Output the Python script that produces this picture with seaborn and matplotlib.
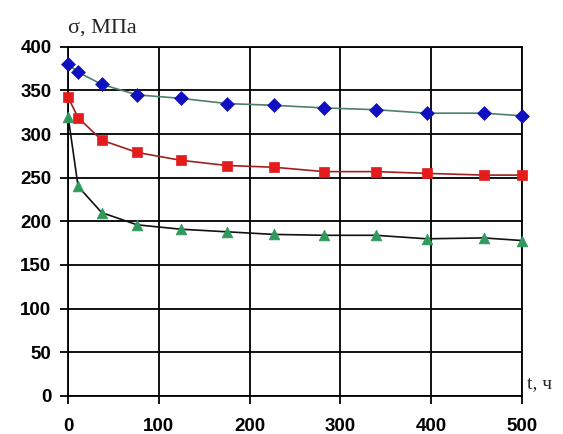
import pandas as pd
import seaborn as sns
import matplotlib.pyplot as plt

t_hours = [0, 11, 37, 76, 124, 175, 227, 282, 339, 395, 458, 500]
sigma_blue = [380, 371, 357, 345, 341, 335, 333, 330, 328, 324, 324, 321]
sigma_red = [342, 319, 293, 279, 270, 264, 262, 257, 257, 255, 253, 253]
sigma_green = [320, 240, 210, 196, 191, 188, 185, 184, 184, 180, 181, 178]

x_ticks = [0, 100, 200, 300, 400, 500]
y_ticks = [0, 50, 100, 150, 200, 250, 300, 350, 400]

sns.set_theme(style="white")
plt.rcParams['font.family'] = ['Liberation Sans', 'DejaVu Sans']

fig = plt.figure(figsize=(5.63, 4.34), dpi=100)
ax = fig.add_axes([0.121, 0.088, 0.806, 0.804])

series = [
    (sigma_blue, "#4f7f6a", "#1010c0", "D", 50),
    (sigma_red, "#a02020", "#e41c1c", "s", 55),
    (sigma_green, "#111111", "#2f9a5c", "^", 60),
]
for vals, line_col, mark_col, mk, sz in series:
    df = pd.DataFrame({"t": t_hours, "sigma": vals})
    sns.lineplot(data=df, x="t", y="sigma", ax=ax, color=line_col, linewidth=1.2)
    sns.scatterplot(data=df, x="t", y="sigma", ax=ax, color=mark_col, marker=mk,
                    s=sz, edgecolor=mark_col, linewidth=0.5, zorder=5)
for coll in ax.collections:
    coll.set_clip_on(False)

ax.set_xlim(0, 500)
ax.set_ylim(0, 400)
ax.set_xticks(x_ticks)
ax.set_yticks(y_ticks)
ax.grid(True, color="black", linewidth=1.3)
for sp in ax.spines.values():
    sp.set_color("black")
    sp.set_linewidth(1.3)
ax.tick_params(axis="both", direction="out", length=6, width=1.3, color="black",
               labelsize=13.5, labelcolor="black", left=True, bottom=True)
ax.tick_params(axis="x", pad=10)
ax.tick_params(axis="y", pad=6)
for lbl in ax.get_xticklabels() + ax.get_yticklabels():
    lbl.set_fontweight("bold")
ax.set_xlabel("")
ax.set_ylabel("")

# axis captions, placed like in the original figure
ax.text(0.0, 1.028, "σ, МПа", transform=ax.transAxes, fontsize=16,
        family=["Liberation Serif", "DejaVu Serif"], ha="left", va="bottom")
ax.text(1.012, 0.012, "t, ч", transform=ax.transAxes, fontsize=14,
        family=["Liberation Serif", "DejaVu Serif"], ha="left", va="bottom")

fig.savefig("out.png", dpi=100)
